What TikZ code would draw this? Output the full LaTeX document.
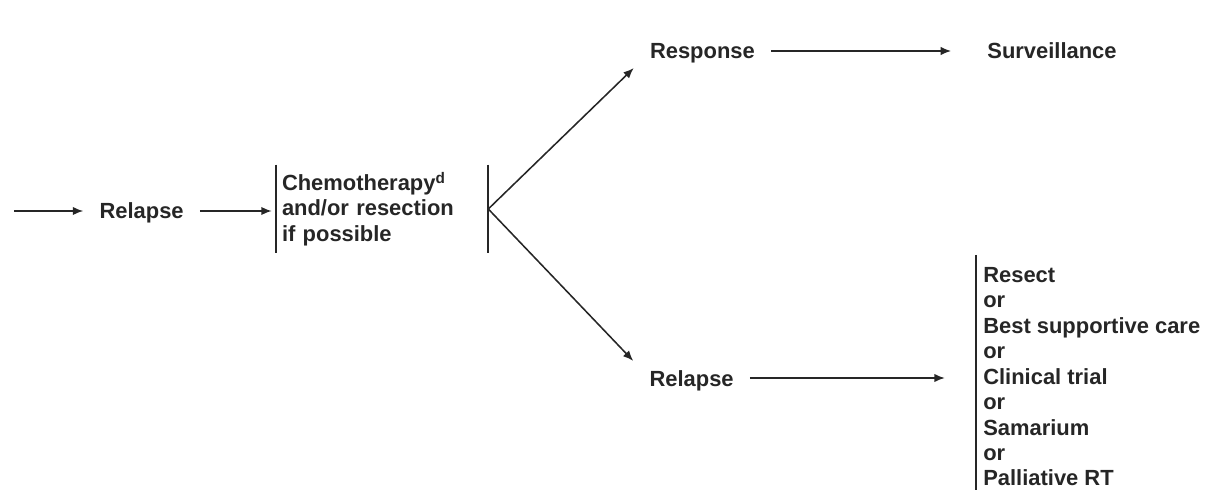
\documentclass[tikz,border=0pt]{standalone}
\usepackage{fontspec}
\usepackage{xcolor}
\usepackage{tikz}
\usetikzlibrary{arrows.meta}
\setmainfont{Liberation Sans}

\begin{document}
\begin{tikzpicture}[
        lbl/.style={font=\fontsize{15.6}{18.1}\selectfont\bfseries, text=black!85,
            inner xsep=0.4cm, inner ysep=0.22cm, text height=0.4cm, text depth=0pt},
        brk/.style={font=\fontsize{15.6}{18.1}\selectfont\bfseries, text=black!85, align=left},
        arr/.style={-{Latex[length=2.6mm,width=2.1mm]}, line width=1.1pt, black!85},
        bar/.style={line width=1.5pt, black!85}]
        \useasboundingbox (0,0) rectangle (30.6,-12.25);

        % Left part: relapse into treatment
        \coordinate (in) at (0.35,-5.275);
        \node[lbl, anchor=base] (relapse1) at (3.54,-5.475) {Relapse};
        \node[brk, text width=5.0cm, inner xsep=0.15cm, minimum height=2.2cm] (chemo) at (9.55,-5.225)
            {Chemotherapy\textsuperscript{d}\\and/or resection\\if possible};
        \draw[bar] (chemo.north west) -- (chemo.south west);
        \draw[bar] (chemo.north east) -- (chemo.south east);
        \draw[arr] (in) -- (relapse1);
        \draw[arr, shorten >=0.1cm] (relapse1) -- (relapse1 -| chemo.west);

        % Upper branch
        \node[lbl, anchor=base] (response) at (17.56,-1.475) {Response};
        \node[lbl, anchor=base] (surveillance) at (26.3,-1.475) {Surveillance};
        \draw[arr] (chemo.east) -- (response.south west);
        \draw[arr, shorten >=0.5cm] (response) -- (surveillance);

        % Lower branch
        \node[lbl, anchor=base] (relapse2) at (17.29,-9.65) {Relapse};
        \node[brk, anchor=north west, inner xsep=0.175cm, inner ysep=0.3cm] (options) at (24.4,-6.375)
            {Resect\\or\\Best supportive care\\or\\Clinical trial\\or\\Samarium\\or\\Palliative RT};
        \draw[bar] (options.north west) -- (options.south west);
        \draw[arr] (chemo.east) -- (relapse2.north west);
        \draw[arr, shorten >=0.78cm] (relapse2) -- (relapse2 -| options.west);
    \end{tikzpicture}
\end{document}
